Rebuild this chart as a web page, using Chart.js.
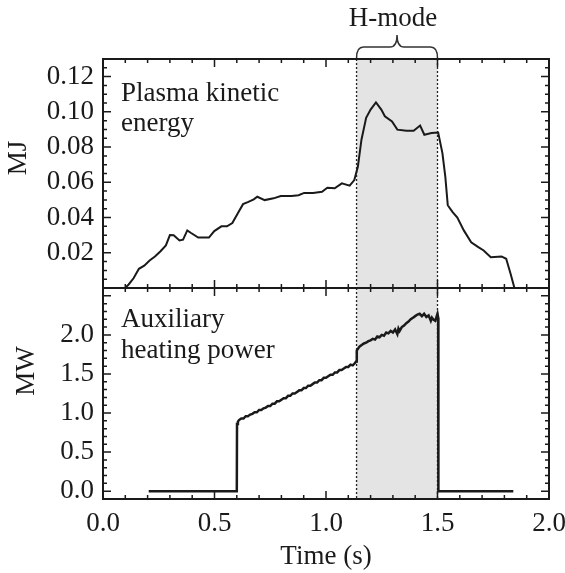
<!DOCTYPE html>
<html>
<head>
<meta charset="utf-8">
<script src="https://cdn.jsdelivr.net/npm/chart.js@4.4.1/dist/chart.umd.min.js"></script>
<style>
  html, body { margin: 0; padding: 0; background: #fff; }
  #wrap { position: relative; width: 565px; height: 573px; overflow: hidden; }
  canvas { position: absolute; left: 0; }
  #cTop { top: 0; }
  #cBot { top: 288px; }
</style>
</head>
<body>
<div id="wrap">
  <canvas id="cTop" width="565" height="300"></canvas>
  <canvas id="cBot" width="565" height="285"></canvas>
</div>
<script>
// ─────────────────────────────────────────
//  DATA
// ─────────────────────────────────────────

// plasma kinetic energy, MJ
const energyTime = [
  0.099, 0.115, 0.137, 0.161, 0.185, 0.209, 0.233, 0.258, 0.282, 0.300,
  0.317, 0.343, 0.359, 0.378, 0.395, 0.427, 0.475, 0.499, 0.531, 0.556,
  0.580, 0.604, 0.628, 0.652, 0.676, 0.692, 0.725, 0.765, 0.797, 0.845,
  0.877, 0.902, 0.942, 0.982, 1.006, 1.039, 1.071, 1.106, 1.127, 1.143,
  1.159, 1.180, 1.200, 1.224, 1.248, 1.264, 1.296, 1.320, 1.361, 1.393,
  1.422, 1.441, 1.473, 1.503, 1.522, 1.535, 1.546, 1.567, 1.589, 1.618,
  1.651, 1.683, 1.707, 1.739, 1.787, 1.808, 1.828, 1.845
];
const energyValue = [
  0.0000, 0.0020, 0.0055, 0.0109, 0.0127, 0.0156, 0.0179, 0.0209, 0.0242, 0.0300,
  0.0299, 0.0270, 0.0274, 0.0327, 0.0312, 0.0286, 0.0286, 0.0323, 0.0350, 0.0350,
  0.0369, 0.0423, 0.0476, 0.0489, 0.0503, 0.0518, 0.0499, 0.0509, 0.0522, 0.0522,
  0.0527, 0.0540, 0.0540, 0.0546, 0.0569, 0.0566, 0.0594, 0.0581, 0.0613, 0.0689,
  0.0842, 0.0966, 0.1013, 0.1053, 0.1013, 0.0975, 0.0946, 0.0899, 0.0893, 0.0893,
  0.0922, 0.0870, 0.0880, 0.0883, 0.0766, 0.0632, 0.0470, 0.0432, 0.0400, 0.0327,
  0.0260, 0.0232, 0.0213, 0.0175, 0.0179, 0.0166, 0.0080, 0.0000
];

// auxiliary heating power, MW
const powerTime = [
  0.205, 0.600, 0.601, 0.605, 0.61,
  0.62, 0.63, 0.64, 0.65, 0.66, 0.67, 0.68, 0.69, 0.70, 0.71,
  0.72, 0.73, 0.74, 0.75, 0.76, 0.77, 0.78, 0.79, 0.80, 0.81,
  0.82, 0.83, 0.84, 0.85, 0.86, 0.87, 0.88, 0.89, 0.90, 0.91,
  0.92, 0.93, 0.94, 0.95, 0.96, 0.97, 0.98, 0.99, 1.00, 1.01,
  1.02, 1.03, 1.04, 1.05, 1.06, 1.07, 1.08, 1.09, 1.10, 1.11,
  1.12, 1.13, 1.135, 1.138, 1.15, 1.16, 1.17, 1.18, 1.19, 1.20,
  1.21, 1.22, 1.23, 1.24, 1.25, 1.26, 1.27, 1.28, 1.29, 1.30,
  1.31, 1.32, 1.325, 1.33, 1.34, 1.35, 1.36, 1.37, 1.38, 1.39,
  1.40, 1.41, 1.42, 1.43, 1.44, 1.45, 1.46, 1.47, 1.475, 1.48,
  1.49, 1.50, 1.503, 1.504, 1.840
];
const powerValue = [
  0.00, 0.00, 0.86, 0.89, 0.91,
  0.93, 0.93, 0.96, 0.96, 0.98, 0.99, 1.01, 1.01, 1.04, 1.04,
  1.06, 1.07, 1.09, 1.09, 1.12, 1.12, 1.15, 1.15, 1.17, 1.19,
  1.19, 1.22, 1.22, 1.25, 1.25, 1.27, 1.29, 1.29, 1.32, 1.32,
  1.35, 1.35, 1.37, 1.39, 1.39, 1.42, 1.42, 1.45, 1.45, 1.47,
  1.49, 1.49, 1.52, 1.52, 1.55, 1.55, 1.57, 1.59, 1.59, 1.62,
  1.61, 1.64, 1.66, 1.80, 1.85, 1.87, 1.89, 1.90, 1.92, 1.93,
  1.95, 1.94, 1.98, 1.97, 2.00, 1.99, 2.03, 2.02, 2.05, 2.03,
  2.07, 2.01, 2.08, 2.05, 2.10, 2.12, 2.15, 2.17, 2.20, 2.22,
  2.24, 2.26, 2.27, 2.24, 2.27, 2.23, 2.25, 2.18, 2.22, 2.20,
  2.18, 2.27, 2.22, 0.00, 0.00
];

const timeTicks   = [0.0, 0.5, 1.0, 1.5, 2.0];
const energyTicks = [0.02, 0.04, 0.06, 0.08, 0.10, 0.12];
const powerTicks  = [0.0, 0.5, 1.0, 1.5, 2.0];

const hMode = [1.137, 1.5];   // shaded window, s

// ─────────────────────────────────────────
//  helpers
// ─────────────────────────────────────────

const SERIF = '"Liberation Serif", "Times New Roman", serif';
const FS = 27;
const INK = '#1a1a1a';

const toXY = (xs, ys) => xs.map((x, i) => ({ x, y: ys[i] }));

// inward ticks on every side, frame, shaded band, dotted edges
const framePlugin = (cfg) => ({
  id: 'frame_' + cfg.name,
  beforeDatasetsDraw(chart) {
    const { ctx, chartArea: a, scales: { x } } = chart;
    const x0 = x.getPixelForValue(hMode[0]);
    const x1 = x.getPixelForValue(hMode[1]);
    ctx.save();
    ctx.fillStyle = '#e4e4e4';
    ctx.fillRect(x0, a.top, x1 - x0, a.bottom - a.top);
    ctx.strokeStyle = '#222';
    ctx.lineWidth = 1.3;
    ctx.setLineDash([2, 2]);
    [x0, x1].forEach(px => {
      ctx.beginPath();
      ctx.moveTo(px, a.top);
      ctx.lineTo(px, a.bottom);
      ctx.stroke();
    });
    ctx.restore();
  },
  afterDatasetsDraw(chart) {
    const { ctx, chartArea: a, scales: { x, y } } = chart;
    const isMajor = (v, step) => Math.abs(v / step - Math.round(v / step)) < 1e-6;
    const each = (min, max, step, fn) => {
      const n0 = Math.ceil(min / step - 1e-6), n1 = Math.floor(max / step + 1e-6);
      for (let n = n0; n <= n1; n++) fn(n * step);
    };
    ctx.save();
    ctx.strokeStyle = INK;
    ctx.lineWidth = 1.5;
    ctx.beginPath();
    each(x.min, x.max, 0.1, v => {
      const px = x.getPixelForValue(v);
      const len = isMajor(v, 0.5) ? 8 : 4;
      ctx.moveTo(px, a.top); ctx.lineTo(px, a.top + len);
      ctx.moveTo(px, a.bottom); ctx.lineTo(px, a.bottom - len);
    });
    each(y.min, y.max, cfg.yMinor, v => {
      const py = y.getPixelForValue(v);
      const len = isMajor(v, cfg.yMajor) ? 8 : 4;
      ctx.moveTo(a.left, py); ctx.lineTo(a.left + len, py);
      ctx.moveTo(a.right, py); ctx.lineTo(a.right - len, py);
    });
    ctx.stroke();
    ctx.lineWidth = 2;
    ctx.strokeRect(a.left, a.top, a.right - a.left, a.bottom - a.top);
    ctx.restore();
  },
  afterDraw(chart) {
    const { ctx, chartArea: a, scales: { x } } = chart;
    ctx.save();
    ctx.fillStyle = INK;
    ctx.font = FS + 'px ' + SERIF;
    ctx.textBaseline = 'alphabetic';
    ctx.textAlign = 'left';
    cfg.lines.forEach((t, i) => ctx.fillText(t, a.left + 18, cfg.lineY[i]));

    // rotated unit label
    ctx.save();
    ctx.translate(cfg.unitX, cfg.unitY);
    ctx.rotate(-Math.PI / 2);
    ctx.textAlign = 'center';
    ctx.fillText(cfg.unit, 0, 0);
    ctx.restore();

    if (cfg.brace) {
      const x0 = x.getPixelForValue(hMode[0]);
      const x1 = x.getPixelForValue(hMode[1]);
      const xc = (x0 + x1) / 2;
      const yb = a.top - 1, ym = a.top - 12, yt = a.top - 24, r = 7;
      ctx.strokeStyle = '#333';
      ctx.lineWidth = 1.5;
      ctx.beginPath();
      ctx.moveTo(x0, yb);
      ctx.quadraticCurveTo(x0, ym, x0 + r, ym);
      ctx.lineTo(xc - r, ym);
      ctx.quadraticCurveTo(xc, ym, xc, yt);
      ctx.quadraticCurveTo(xc, ym, xc + r, ym);
      ctx.lineTo(x1 - r, ym);
      ctx.quadraticCurveTo(x1, ym, x1, yb);
      ctx.stroke();
      ctx.textAlign = 'center';
      ctx.fillText('H-mode', xc - 4, 26);
    }
    ctx.restore();
  }
});

const lineSet = (data, width) => ({
  data,
  borderColor: INK,
  borderWidth: width,
  pointRadius: 0,
  tension: 0,
  fill: false,
});

const fixTicks = (list) => (scale) => { scale.ticks = list.map(v => ({ value: v })); };

// ─────────────────────────────────────────
//  TOP: plasma kinetic energy
// ─────────────────────────────────────────

new Chart(document.getElementById('cTop'), {
  type: 'line',
  data: { datasets: [lineSet(toXY(energyTime, energyValue), 2)] },
  options: {
    responsive: false,
    animation: false,
    layout: { padding: { top: 59, right: 16, bottom: 12, left: 0 } },
    plugins: { legend: { display: false }, tooltip: { enabled: false } },
    scales: {
      x: { type: 'linear', min: 0, max: 2, display: false },
      y: {
        min: 0, max: 0.13,
        afterBuildTicks: fixTicks(energyTicks),
        afterFit: (s) => { s.width = 103; s.paddingTop = 0; s.paddingBottom = 0; },
        grid: { display: false, drawTicks: false },
        border: { display: false },
        ticks: {
          color: INK, padding: 9,
          font: { family: SERIF, size: FS },
          callback: (v) => Number(v).toFixed(2)
        }
      }
    }
  },
  plugins: [framePlugin({
    name: 'top', yMinor: 0.005, yMajor: 0.02,
    lines: ['Plasma kinetic', 'energy'], lineY: [101, 131],
    unit: 'MJ', unitX: 26, unitY: 158, brace: true
  })]
});

// ─────────────────────────────────────────
//  BOTTOM: auxiliary heating power
// ─────────────────────────────────────────

new Chart(document.getElementById('cBot'), {
  type: 'line',
  data: { datasets: [lineSet(toXY(powerTime, powerValue), 2.5)] },
  options: {
    responsive: false,
    animation: false,
    layout: { padding: { top: 0, right: 16, bottom: 0, left: 0 } },
    plugins: { legend: { display: false }, tooltip: { enabled: false } },
    scales: {
      x: {
        type: 'linear', min: 0, max: 2,
        afterBuildTicks: fixTicks(timeTicks),
        afterFit: (s) => { s.height = 74; s.paddingLeft = 0; s.paddingRight = 0; },
        grid: { display: false, drawTicks: false },
        border: { display: false },
        ticks: {
          color: INK, padding: 9, maxRotation: 0,
          font: { family: SERIF, size: FS },
          callback: (v) => Number(v).toFixed(1)
        },
        title: {
          display: true, text: 'Time (s)', color: INK,
          font: { family: SERIF, size: FS },
          padding: { top: 0, bottom: 0 }
        }
      },
      y: {
        min: -0.1, max: 2.6,
        afterBuildTicks: fixTicks(powerTicks),
        afterFit: (s) => { s.width = 103; s.paddingTop = 0; s.paddingBottom = 0; },
        grid: { display: false, drawTicks: false },
        border: { display: false },
        ticks: {
          color: INK, padding: 9,
          font: { family: SERIF, size: FS },
          callback: (v) => Number(v).toFixed(1)
        }
      }
    }
  },
  plugins: [framePlugin({
    name: 'bot', yMinor: 0.1, yMajor: 0.5,
    lines: ['Auxiliary', 'heating power'], lineY: [39, 70],
    unit: 'MW', unitX: 34, unitY: 83, brace: false
  })]
});
</script>
</body>
</html>
